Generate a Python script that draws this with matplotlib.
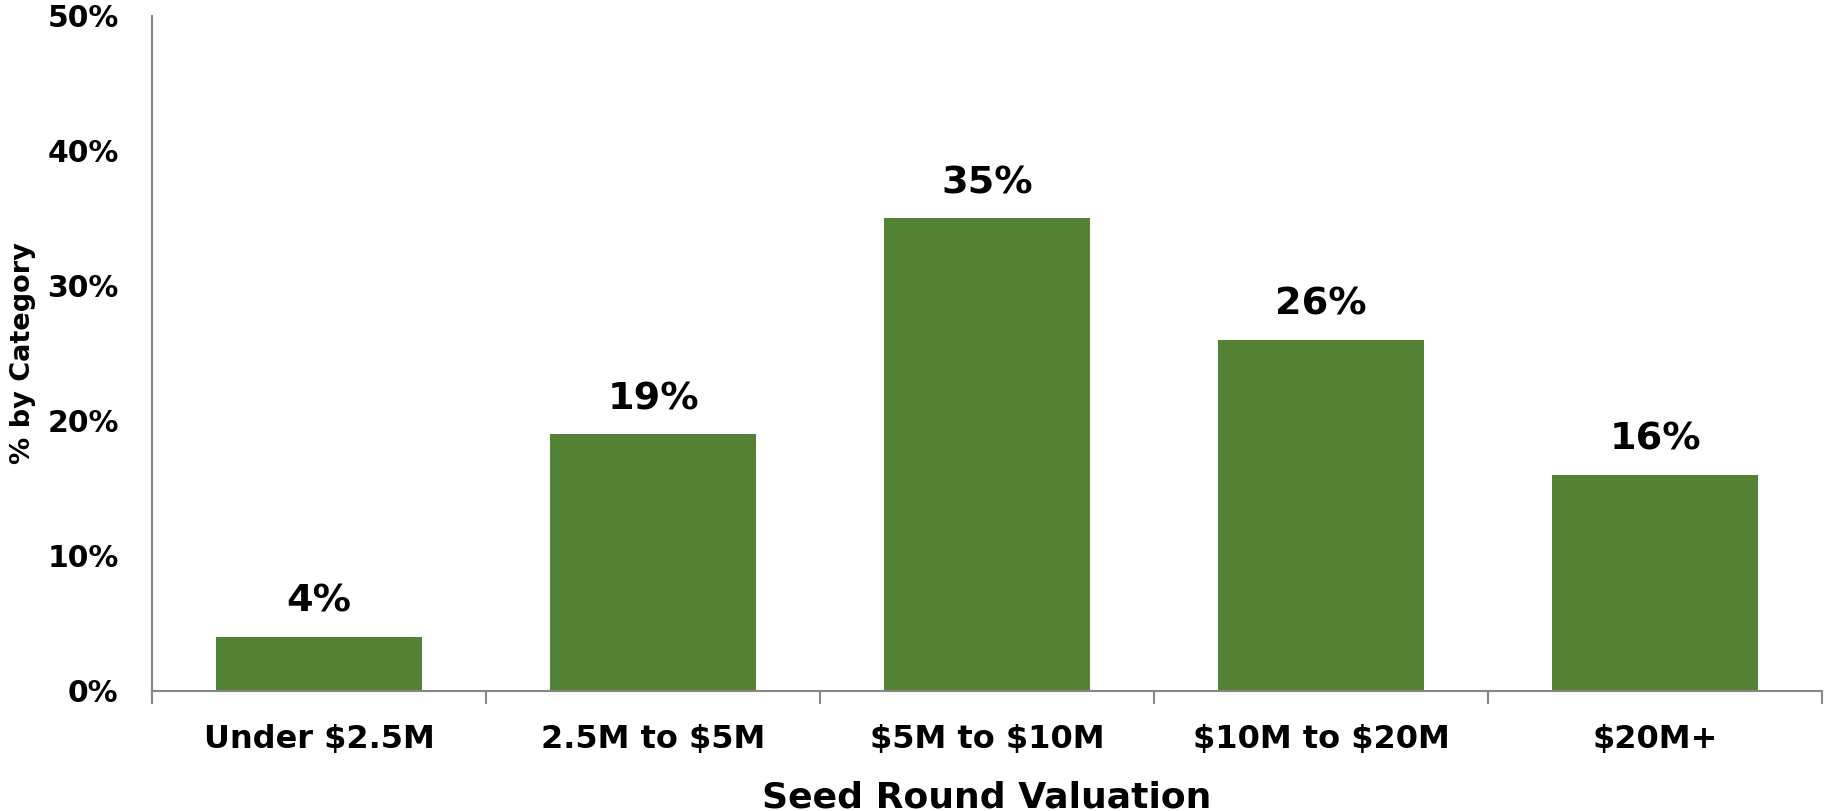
import matplotlib
matplotlib.use("Agg")
import matplotlib.pyplot as plt
from matplotlib.ticker import FuncFormatter

categories = ["Under $2.5M", "2.5M to $5M", "$5M to $10M", "$10M to $20M", "$20M+"]
shares = [4, 19, 35, 26, 16]
y_ticks = [0, 10, 20, 30, 40, 50]

plt.rcParams["text.parse_math"] = False
plt.rcParams["font.family"] = ["DejaVu Sans"]
plt.rcParams["font.weight"] = "bold"

fig = plt.figure(figsize=(18.25, 8.11), dpi=100)
ax = fig.add_axes([0.0833, 0.1483, 0.9151, 0.8323])

x = list(range(len(categories)))
ax.bar(x, shares, width=0.616, color="#548235", zorder=2)

for xi, v in zip(x, shares):
    ax.annotate(f"{v}%", (xi, v), xytext=(0, 18), textcoords="offset points",
                ha="center", va="baseline", fontsize=27.5, fontweight="bold")

ax.set_xlim(-0.5, len(categories) - 0.5)
ax.set_ylim(0, 50)
ax.set_yticks(y_ticks)
ax.yaxis.set_major_formatter(FuncFormatter(lambda v, _: f"{v:.0f}%"))
ax.set_xticks(x)
ax.set_xticklabels(categories)
ax.set_xticks([i + 0.5 for i in range(-1, len(categories))], minor=True)

for side in ("top", "right"):
    ax.spines[side].set_visible(False)
for side in ("left", "bottom"):
    ax.spines[side].set_color("#868686")
    ax.spines[side].set_linewidth(1.5)

ax.tick_params(axis="y", length=0, pad=24, labelsize=21.5)
ax.tick_params(axis="x", which="major", length=0, pad=24, labelsize=23)
ax.tick_params(axis="x", which="minor", length=9, width=1.5, color="#868686")

for lbl in ax.get_xticklabels() + ax.get_yticklabels():
    lbl.set_fontweight("bold")

ax.set_xlabel("Seed Round Valuation", fontsize=26, fontweight="bold", labelpad=18)
ax.set_ylabel("% by Category", fontsize=19.5, fontweight="bold", labelpad=8)

fig.savefig("out.png", dpi=100, facecolor="white")
